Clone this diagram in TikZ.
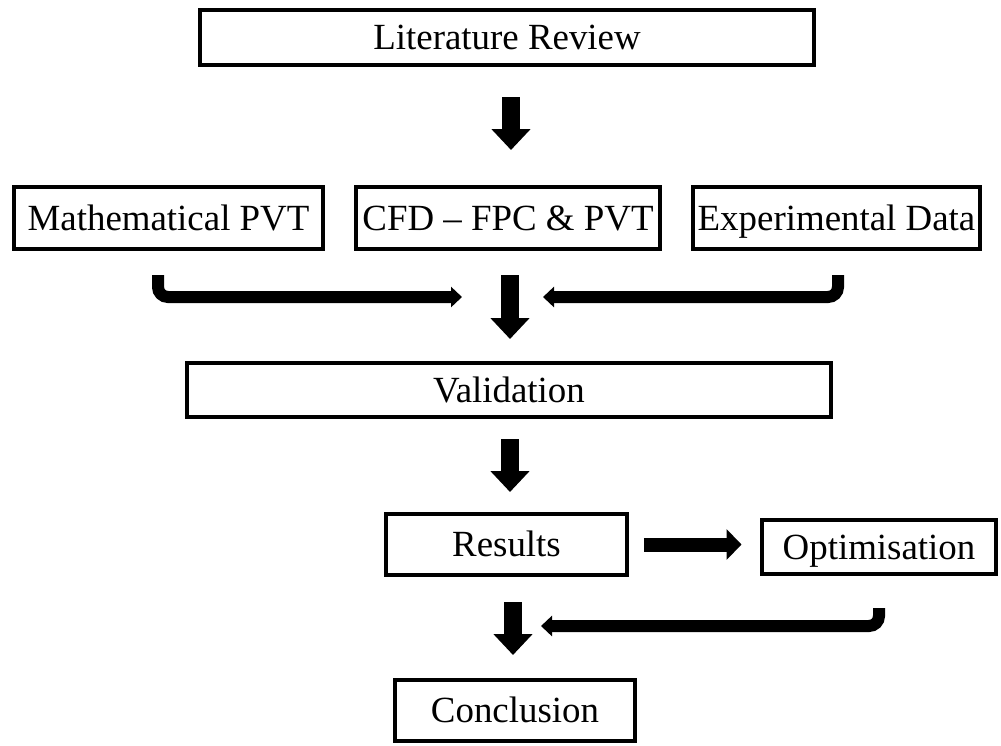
\documentclass[tikz,border=0pt]{standalone}
\usepackage{fontspec}
\setmainfont{Liberation Serif}
\usetikzlibrary{arrows.meta}

\begin{document}
\begin{tikzpicture}[x=0.02cm, y=-0.02cm,
  box/.style={draw, line width=0.08cm, rectangle, inner sep=2pt,
    text height=16pt, text depth=2pt,
    font=\fontsize{21}{25}\selectfont},
  downarr/.style={line width=0.36cm, -{Triangle[length=0.42cm, width=0.76cm]}},
  sidearr/.style={line width=0.28cm, -{Triangle[length=0.3cm, width=0.6cm]}},
  bentarr/.style={line width=0.24cm, rounded corners=0.2cm,
    -{Triangle[length=0.22cm, width=0.4cm]}}]

  \useasboundingbox (0,0) rectangle (1001,745);

  % boxes
  \node[box, minimum width=12.3cm, minimum height=1.1cm] (lit) at (507,37) {Literature Review};
  \node[box, minimum width=6.2cm, minimum height=1.24cm] (math) at (168.5,218) {Mathematical PVT};
  \node[box, minimum width=6.08cm, minimum height=1.24cm] (cfd) at (508,218) {CFD \textendash{} FPC \& PVT};
  \node[box, minimum width=5.74cm, minimum height=1.24cm] (exp) at (836.5,218) {Experimental Data};
  \node[box, minimum width=12.88cm, minimum height=1.08cm] (val) at (509,390) {Validation};
  \node[box, minimum width=4.82cm, minimum height=1.22cm] (res) at (506.5,544.5) {Results};
  \node[box, minimum width=4.7cm, minimum height=1.08cm] (opt) at (879,547) {Optimisation};
  \node[box, minimum width=4.8cm, minimum height=1.22cm] (con) at (515,710.5) {Conclusion};

  % arrow ends
  \coordinate (a1t) at (511,97);
  \coordinate (a1b) at (511,150);
  \coordinate (a2t) at (510,275);
  \coordinate (a2b) at (510,339);
  \coordinate (a3t) at (510,439);
  \coordinate (a3b) at (510,492);
  \coordinate (a4t) at (513,602);
  \coordinate (a4b) at (513,655);
  \coordinate (b1s) at (158,275);
  \coordinate (b1e) at (462,297);
  \coordinate (b2s) at (838,275);
  \coordinate (b2e) at (543,297);
  \coordinate (b3s) at (879,608);
  \coordinate (b3e) at (541,626);

  \draw[downarr] (a1t) -- (a1b);
  \draw[downarr] (a2t) -- (a2b);
  \draw[downarr] (a3t) -- (a3b);
  \draw[downarr] (a4t) -- (a4b);

  \draw[bentarr] (b1s) |- (b1e);
  \draw[bentarr] (b2s) |- (b2e);
  \draw[bentarr] (b3s) |- (b3e);

  \draw[sidearr, shorten <=0.3cm, shorten >=0.36cm] (res.east) -- (res.east -| opt.west);
\end{tikzpicture}
\end{document}
